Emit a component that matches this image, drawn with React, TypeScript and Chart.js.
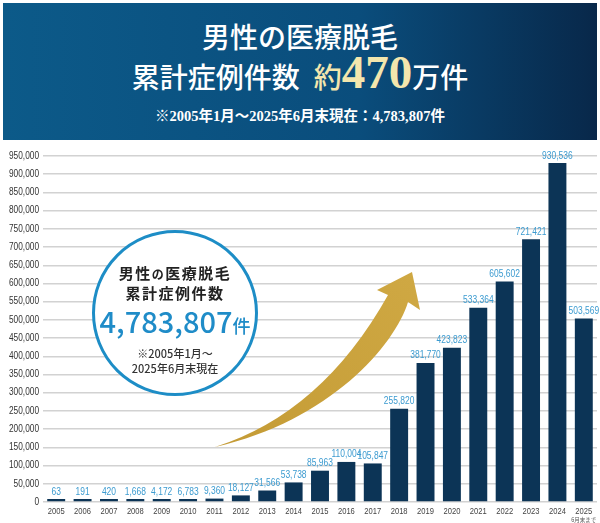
import React from "react"
import { Chart, registerables } from "chart.js"

Chart.register(...registerables)

const years = [
  "2005", "2006", "2007", "2008", "2009", "2010", "2011", "2012", "2013", "2014",
  "2015", "2016", "2017", "2018", "2019", "2020", "2021", "2022", "2023", "2024", "2025",
]
const cases = [
  63, 191, 420, 1668, 4172, 6783, 9360, 18127, 31566, 53738,
  85963, 110004, 105847, 255820, 381770, 423823, 533364, 605602, 721421, 930536, 503569,
]
const yMax = 950000
const yStep = 50000
const lastYearNote = "6月末まで"

const titleLine1 = "男性の医療脱毛"
const titleLine2 = "累計症例件数"
const titleApprox = "約"
const titleBig = "470"
const titleUnit = "万件"
const subTitle = "※2005年1月～2025年6月末現在：4,783,807件"
const totalText = "4,783,807"
const periodLine1 = "※2005年1月～"
const periodLine2 = "2025年6月末現在"

const SANS = '"Liberation Sans", Arial, sans-serif'
const SERIF = '"Liberation Serif", "DejaVu Serif", "Noto Sans CJK JP", serif'
const GOTHIC = '"Noto Sans CJK JP", "Noto Sans", sans-serif'

const fmt = (v: number) => v.toLocaleString("en-US")

// no condensed face is installed, so squeeze the text horizontally
const narrowText = (ctx: any, text: string, x: number, y: number, squeeze: number) => {
  ctx.save()
  ctx.translate(x, y)
  ctx.scale(squeeze, 1)
  ctx.fillText(text, 0, 0)
  ctx.restore()
}

// gold arrow, drawn in canvas pixels (decoration only)
const arrowPlugin = {
  id: "goldArrow",
  beforeDatasetsDraw(chart: any) {
    const ctx = chart.ctx
    ctx.save()
    const g = ctx.createLinearGradient(215, 304, 412, 129)
    g.addColorStop(0, "#c49b35")
    g.addColorStop(1, "#cfa843")
    ctx.fillStyle = g
    ctx.beginPath()
    ctx.moveTo(215, 304)
    ctx.quadraticCurveTo(322, 270, 388, 152)
    ctx.lineTo(377, 147)
    ctx.lineTo(412, 129)
    ctx.lineTo(420, 167)
    ctx.lineTo(408, 159)
    ctx.bezierCurveTo(395, 202, 330, 278, 215, 304)
    ctx.closePath()
    ctx.fill()
    ctx.restore()
  },
}

const labelPlugin = {
  id: "axisAndValueLabels",
  afterDatasetsDraw(chart: any) {
    const ctx = chart.ctx
    const xs = chart.scales.x
    const ys = chart.scales.y
    const meta = chart.getDatasetMeta(0)
    ctx.save()

    // values above bars
    ctx.font = `11px ${SANS}`
    ctx.fillStyle = "#3c9bd0"
    ctx.textAlign = "center"
    ctx.textBaseline = "bottom"
    meta.data.forEach((bar: any, i: number) => {
      narrowText(ctx, fmt(cases[i]), bar.x, bar.y - 2, 0.77)
    })

    // y tick labels
    ctx.font = `10px ${SANS}`
    ctx.fillStyle = "#333"
    ctx.textAlign = "right"
    ctx.textBaseline = "middle"
    ys.ticks.forEach((t: any) => {
      narrowText(ctx, fmt(t.value), ys.right - 4, ys.getPixelForValue(t.value), 0.83)
    })

    // x tick labels
    ctx.font = `9.5px ${SANS}`
    ctx.fillStyle = "#444"
    ctx.textAlign = "center"
    ctx.textBaseline = "top"
    years.forEach((y, i) => {
      narrowText(ctx, y, xs.getPixelForValue(i), xs.top + 5, 0.8)
    })

    ctx.font = `5.5px ${GOTHIC}`
    ctx.fillStyle = "#555"
    ctx.fillText(lastYearNote, xs.getPixelForValue(years.length - 1), xs.top + 15)
    ctx.restore()
  },
}

const CasesChart = () => {
  const chartRef = React.useRef<HTMLCanvasElement>(null)

  React.useEffect(() => {
    if (chartRef.current == null) {
      return
    }

    const chart = new Chart(chartRef.current, {
      type: "bar",
      data: {
        labels: years,
        datasets: [
          {
            data: cases,
            backgroundColor: "#0c3456",
            categoryPercentage: 1,
            barPercentage: 0.68,
            minBarLength: 3,
          },
        ],
      },
      options: {
        responsive: true,
        maintainAspectRatio: false,
        animation: false,
        layout: { padding: { top: 13, right: 3, left: 0, bottom: 0 } },
        plugins: {
          legend: { display: false },
          tooltip: { enabled: false },
        },
        scales: {
          x: {
            grid: { display: false },
            border: { display: false },
            ticks: { display: false },
            afterFit: (s: any) => {
              s.height = 21
            },
          },
          y: {
            min: 0,
            max: yMax,
            ticks: { display: false, stepSize: yStep },
            grid: { color: "#d2d2d2", lineWidth: 1.5, drawTicks: false },
            border: { display: false },
            afterFit: (s: any) => {
              s.width = 43
            },
          },
        },
      },
      plugins: [arrowPlugin, labelPlugin],
    })

    return () => {
      chart.destroy()
    }
  }, [])

  return <canvas ref={chartRef} />
}

const Header = () => (
  <div
    style={{
      position: "absolute",
      left: 3,
      top: 3,
      width: 594,
      height: 137,
      background: "linear-gradient(90deg, #0c5a89 0%, #0a4d7c 60%, #08284a 100%)",
      color: "#fff",
      fontFamily: SERIF,
    }}
  >
    <div
      style={{
        position: "absolute",
        left: 0,
        right: 0,
        top: 19,
        textAlign: "center",
        fontSize: 28,
        lineHeight: "34px",
        fontWeight: 500,
      }}
    >
      {titleLine1}
    </div>
    <div
      style={{
        position: "absolute",
        left: 0,
        right: 0,
        top: 46,
        display: "flex",
        justifyContent: "center",
        alignItems: "baseline",
        fontWeight: 500,
        lineHeight: 1,
      }}
    >
      <span style={{ fontSize: 28 }}>{titleLine2}</span>
      <span style={{ fontSize: 28, color: "#f3e6ad", marginLeft: 14 }}>{titleApprox}</span>
      <span style={{ fontSize: 47, color: "#f3e6ad", fontWeight: 700 }}>{titleBig}</span>
      <span style={{ fontSize: 28 }}>{titleUnit}</span>
    </div>
    <div
      style={{
        position: "absolute",
        left: 0,
        right: 0,
        top: 104,
        textAlign: "center",
        fontSize: 14.5,
        lineHeight: "18px",
        fontWeight: 700,
      }}
    >
      {subTitle}
    </div>
  </div>
)

const TotalBadge = () => (
  <div
    style={{
      position: "absolute",
      left: 92,
      top: 230,
      width: 166,
      height: 166,
      boxSizing: "border-box",
      border: "3px solid #1d8dc6",
      borderRadius: "50%",
      background: "#fff",
      fontFamily: GOTHIC,
      textAlign: "center",
    }}
  >
    <div style={{ position: "absolute", left: 0, right: 0, top: 31, fontSize: 15, lineHeight: "18px", fontWeight: 700, color: "#222", letterSpacing: 1.5 }}>
      男性<span style={{ fontSize: 12 }}>の</span>医療脱毛
    </div>
    <div style={{ position: "absolute", left: 0, right: 0, top: 51, fontSize: 15, lineHeight: "18px", fontWeight: 700, color: "#222", letterSpacing: 1.5 }}>
      {titleLine2}
    </div>
    <div
      style={{
        position: "absolute",
        left: 0,
        right: 0,
        top: 73,
        display: "flex",
        justifyContent: "center",
        alignItems: "baseline",
        color: "#1f8cc8",
        fontWeight: 500,
        lineHeight: 1,
      }}
    >
      <span style={{ fontSize: 29 }}>{totalText}</span>
      <span style={{ fontSize: 18 }}>件</span>
    </div>
    <div style={{ position: "absolute", left: 0, right: 0, top: 113, fontSize: 11, lineHeight: "14px", fontWeight: 500, color: "#333" }}>
      {periodLine1}
    </div>
    <div style={{ position: "absolute", left: 0, right: 0, top: 128, fontSize: 11, lineHeight: "14px", fontWeight: 500, color: "#333" }}>
      {periodLine2}
    </div>
  </div>
)

export default function App() {
  return (
    <div style={{ position: "fixed", left: 0, top: 0, width: 600, height: 523, background: "#fff", overflow: "hidden" }}>
      <Header />
      <div style={{ position: "absolute", left: 0, top: 143, width: 600, height: 380 }}>
        <CasesChart />
      </div>
      <TotalBadge />
    </div>
  )
}
